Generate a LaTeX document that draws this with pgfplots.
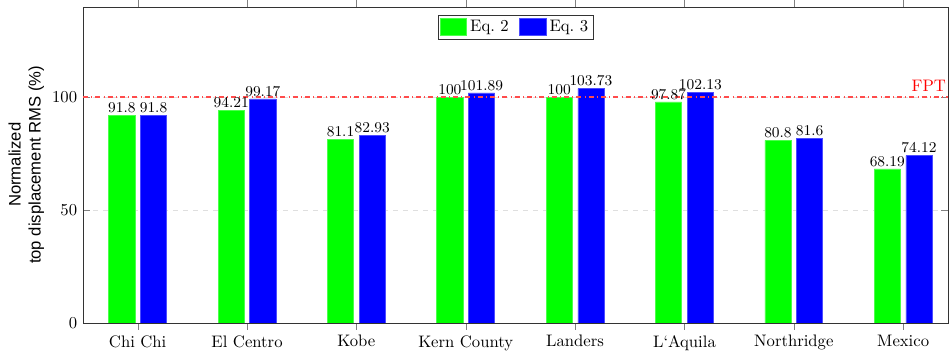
\documentclass[border=0pt]{standalone}
\usepackage{fontspec}
\setsansfont{Liberation Sans}
\usepackage{pgfplots}
\pgfplotsset{compat=1.18}
\begin{document}
\begin{tikzpicture}
\begin{axis}[
  scale only axis,
  width=519pt, height=189.6pt,
  xmin=-0.5, xmax=7.41,
  ymin=0, ymax=140,
  xtick={0,1,2,3,4,5,6,7},
  xticklabels={Chi Chi, El Centro, Kobe, Kern County, Landers, L`Aquila, Northridge, Mexico},
  ytick={0,50,100},
  tick align=inside,
  major tick length=4pt,
  ymajorgrids,
  grid style={dashed, gray!25},
  axis line style={black!80},
  ylabel={\sffamily Normalized\\\sffamily top displacement RMS (\%)},
  ylabel style={align=center, yshift=-2pt},
  legend style={at={(0.5,0.975)}, anchor=north, legend columns=2, draw=black!80,
    inner sep=1pt, /tikz/every even column/.append style={column sep=4pt}},
  nodes near coords,
  every node near coord/.append style={font=\small, inner sep=1.5pt},
  ybar, bar width=0.24,
  legend image code/.code={\fill[#1] (0pt,-5pt) rectangle (16pt,5pt);},
]
\addplot[fill=green, draw=green!70!white, bar shift=-0.145] coordinates {
(0,91.8) (1,94.21) (2,81.1) (3,100) (4,100) (5,97.87) (6,80.8) (7,68.19)};
\addlegendentry{Eq.~2}
\addplot[fill=blue, draw=blue!70!white, bar shift=0.145] coordinates {
(0,91.8) (1,99.17) (2,82.93) (3,101.89) (4,103.73) (5,102.13) (6,81.6) (7,74.12)};
\addlegendentry{Eq.~3}
\draw[red!70, dash dot, thick] (axis cs:-0.5,100) -- (axis cs:7.41,100);
\node[red, anchor=south east, inner sep=1pt] at (axis cs:7.41,101.5) {FPT};
\end{axis}
\path[use as bounding box] ([xshift=-49.8pt,yshift=-17.4pt]current axis.south west) rectangle ([xshift=1.2pt,yshift=3.6pt]current axis.north east);
\end{tikzpicture}
\end{document}
